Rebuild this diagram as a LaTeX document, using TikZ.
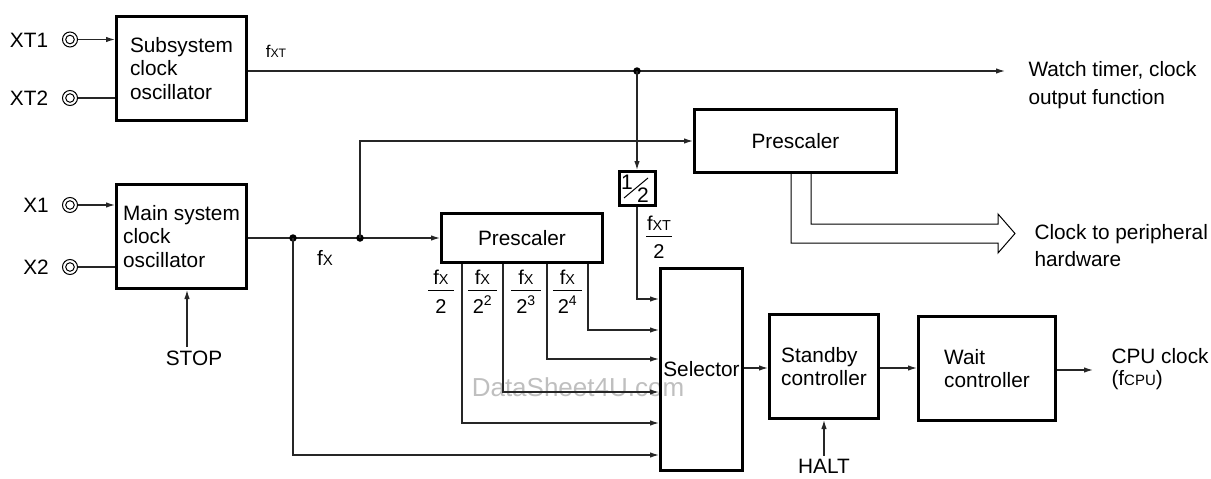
\documentclass[tikz,border=0pt]{standalone}
\usepackage{fontspec}
\setmainfont{Liberation Sans}
\usepackage{graphicx}
\usetikzlibrary{arrows.meta,calc}
\newcommand{\sbs}[1]{\scalebox{0.72}{#1}}
\newcommand{\frc}[3][5pt]{\begin{tabular}{@{\hspace{#1}}c@{\hspace{#1}}}#2\\\hline\rule{0pt}{22pt}#3\end{tabular}}
\setlength{\arrayrulewidth}{0.9pt}
\begin{document}
\begin{tikzpicture}[x=1pt,y=-1pt,
  font=\fontsize{20.8}{23.5}\selectfont,
  blk/.style={draw, line width=3pt, inner sep=0pt, align=left},
  ln/.style={line width=1.2pt, draw=black!85},
  arr/.style={ln, -{Latex[length=9pt,width=5.5pt]}},
  dcirc/.style={circle, draw, line width=1pt, minimum size=15pt, inner sep=0pt,
    path picture={\draw[line width=1pt] (path picture bounding box.center) circle (4.3pt);}},
  dot/.style={circle, fill, inner sep=0pt, minimum size=7.5pt},
  fr/.style={inner sep=0pt, font=\fontsize{20}{18}\selectfont}
]
\useasboundingbox (0,0) rectangle (1211,479);
\node[text=black!25, font=\fontsize{26}{26}\selectfont] (wm) at (578,387) {DataSheet4U.com};

% blocks
\node[blk, minimum width=130pt, minimum height=104pt] (sub) at (181.5,68.5) {Subsystem\\clock\\oscillator};
\node[blk, minimum width=130pt, minimum height=104pt] (main) at (181.5,236.5) {Main system\\clock\\oscillator};
\node[blk, minimum width=202pt, minimum height=63pt] (pre1) at (795.5,141) {Prescaler};
\node[blk, minimum width=161pt, minimum height=49pt] (pre2) at (522,238) {Prescaler};
\node[blk, minimum width=36pt, minimum height=34pt] (half) at (637,188.5) {};
\node[blk, minimum width=82pt, minimum height=202pt] (sel) at (701.5,369.5) {Selector};
\node[blk, minimum width=109pt, minimum height=104pt] (stb) at (824,366.5) {Standby\\controller};
\node[blk, minimum width=137pt, minimum height=104pt] (wait) at (987,368.5) {Wait\\controller};

% 1/2 contents
\node[fr, font=\fontsize{21}{21}\selectfont] (one) at ($(half.center)+(-10,-6.5)$) {1};
\node[fr, font=\fontsize{21}{21}\selectfont] (two) at ($(half.center)+(6,6.5)$) {2};
\draw[line width=1pt] ($(half.center)+(-13,9.5)$) -- ($(half.center)+(11,-10.5)$);

% inputs
\node (xt1l) at (29,40) {XT1};
\node (xt2l) at (29,98) {XT2};
\node (x1l) at (36,205) {X1};
\node (x2l) at (36,267) {X2};
\node[dcirc] (xt1) at (70,39.5) {};
\node[dcirc] (xt2) at (70,98) {};
\node[dcirc] (x1) at (70,205) {};
\node[dcirc] (x2) at (70,267) {};
\draw[arr] (xt1.east) -- (xt1 -| sub.west);
\draw[ln] (xt2.east) -- (xt2 -| sub.west);
\draw[arr] (x1.east) -- (x1 -| main.west);
\draw[ln] (x2.east) -- (x2 -| main.west);

% subsystem clock line
\coordinate (dT) at (637,71);
\coordinate (wt) at (1005,71);
\draw[arr] (sub.east |- dT) -- (wt);
\node[dot] (dTn) at (dT) {};
\draw[arr] (dT) -- (half.north);
\node[font=\fontsize{17}{17}\selectfont] (fxt) at (276,51) {f\sbs{XT}};
\node[anchor=west, align=left, font=\fontsize{20.8}{28}\selectfont] (wtt) at (1025,85) {Watch timer, clock\\output function};

% main clock line
\coordinate (d1) at (293,238);
\coordinate (d2) at (360,238);
\draw[arr] (main.east |- pre2.west) -- (pre2.west);
\node[dot] (d1n) at (d1) {};
\node[dot] (d2n) at (d2) {};
\draw[arr] (d2) |- (pre1.west);
\draw[arr] (d1) |- (sel.west |- 0,455);
\node (fx) at (325,258) {f\sbs{X}};

% hollow arrow to peripheral
\draw[line width=1pt, draw=black] (pre1.south -| 791,0) |- (998,243) -- (998,253) -- (1015,233.5) -- (998,214) -- (998,224) -| (pre1.south -| 811,0);
\node[anchor=west, align=left, font=\fontsize{20.8}{27}\selectfont] (cph) at (1031,246) {Clock to peripheral\\hardware};

% prescaler outputs
\draw[arr] (pre2.south -| 588,0) |- (sel.west |- 0,330);
\draw[arr] (pre2.south -| 547,0) |- (sel.west |- 0,359);
\draw[arr] (pre2.south -| 503,0) |- (sel.west |- 0,392);
\draw[arr] (pre2.south -| 462,0) |- (sel.west |- 0,423);
\draw[arr] (half.south) |- (sel.west |- 0,299);

\node[fr] (f1) at (441,294.5) {\frc{f\sbs{X}}{2}};
\node[fr] (f2) at (482.5,294.5) {\frc{f\sbs{X}}{2\textsuperscript{2}}};
\node[fr] (f3) at (526,294.5) {\frc{f\sbs{X}}{2\textsuperscript{3}}};
\node[fr] (f4) at (567.5,294.5) {\frc{f\sbs{X}}{2\textsuperscript{4}}};
\node[fr] (f5) at (659,240) {\frc[1pt]{f\sbs{XT}}{2}};

% chain to CPU
\draw[arr] (sel.east |- 0,368) -- (stb.west |- 0,368);
\draw[arr] (stb.east |- 0,368) -- (wait.west |- 0,368);
\coordinate (cpu) at (1093,370);
\draw[arr] (wait.east |- cpu) -- (cpu);
\node[anchor=west, align=left, font=\fontsize{20.8}{22}\selectfont] (cput) at (1108,369) {CPU clock\\(f\sbs{CPU})};

% HALT / STOP
\node (halt) at (824,466.5) {HALT};
\draw[arr] (halt.north) -- (stb.south);
\node (stop) at (194,358) {STOP};
\draw[arr] (stop.north -| 187,0) -- (main.south -| 187,0);
\end{tikzpicture}
\end{document}
